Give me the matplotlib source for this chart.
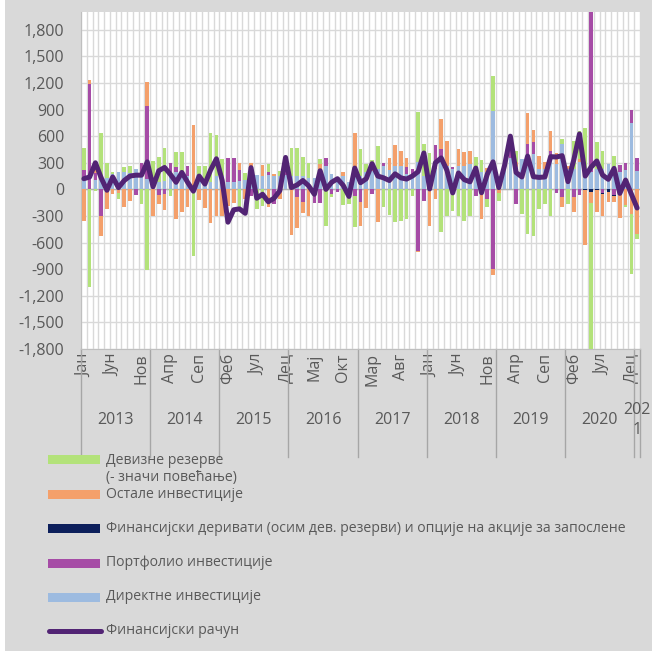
import numpy as np
import matplotlib
matplotlib.use("Agg")
import matplotlib.pyplot as plt
from matplotlib.patches import Rectangle
from matplotlib.lines import Line2D
from matplotlib.ticker import FuncFormatter

plt.rcParams['font.family'] = ['Open Sans', 'DejaVu Sans']

month_names = ['Јан', 'Феб', 'Мар', 'Апр', 'Мај', 'Јун',
               'Јул', 'Авг', 'Сеп', 'Окт', 'Нов', 'Дец']
years = ['2013', '2014', '2015', '2016', '2017', '2018', '2019', '2020', '202\n1']
months_per_year = [12, 12, 12, 12, 12, 12, 12, 12, 1]

# monthly values, Jan 2013 - Jan 2021 (EUR mn)
direct = [116, 0, 110, 127, 127, 172, 191, 191, 180, 229, 191, 120,
          60, 80, 100, 191, 191, 150, 150, 0, 150, 120, 80, 150,
          150, 80, 80, 100, 110, 154, 161, 154, 161, 154, 154, 160,
          154, 154, 154, 128, 128, 210, 266, 172, 116, 154, 79, 191,
          154, 191, 210, 229, 266, 221, 259, 259, 172, 170, 304, 150,
          150, 230, 341, 266, 229, 266, 266, 285, 266, 200, 199, 885,
          150, 230, 350, 250, 341, 398, 398, 229, 229, 379, 285, 510,
          229, 229, 304, 229, 200, 229, 229, 285, 229, 200, 220, 754,
          210]
portfolio = [101, 1192, 80, -296, 0, 0, 0, 0, 0, -64, 101, 821,
             0, -60, -52, 101, 60, 0, 116, 0, 0, 0, 0, 0,
             0, 269, 269, 120, 0, -71, 0, 0, 30, -165, 0, 50,
             0, -90, -139, 0, -154, -154, 90, -50, -30, 0, 0, -71,
             -139, 0, -50, 0, 30, 0, 0, 0, 76, 55, -690, -128,
             0, 272, 112, 0, 26, 0, 0, 0, -70, 0, -109, -896,
             0, 0, 100, -165, 0, 112, 131, 0, 0, 56, -40, -90,
             0, -90, -64, 0, 1800, 0, -40, 0, -64, 74, 76, 138,
             139]
derivatives = [0] * 87 + [-10, -26, -10, -10, -30, -10, 0, 0, 0, 0]
other = [-360, 38, 90, -233, -221, -50, -40, -202, -127, 0, 0, 270,
         -296, -105, -177, 0, -330, -259, -200, 724, -116, -214, -380, -300,
         -305, -184, -150, 76, -110, 142, 0, 120, -200, 22, -109, 60,
         -514, -349, -127, -296, 0, 75, 0, 0, 0, 45, 0, 439,
         -270, -214, 20, -371, 0, 135, 243, 176, 104, 0, -19, 0,
         -409, -109, 346, 281, 0, 188, 150, 150, 0, -330, 37, -75,
         -40, 40, 150, 60, 0, 356, 142, 150, 80, 225, 120, -112,
         37, -169, 37, -615, -124, -240, -246, -116, -72, -326, -176, -277,
         -502]
reserves = [255, -1106, -20, 514, 169, 20, -71, 64, 86, 0, -165, -909,
            259, 280, 361, -79, 173, 274, 0, -746, 109, 139, 550, 465,
            191, 0, 0, -221, 70, 0, -221, -184, 94, 0, 49, 100,
            307, 307, 206, 172, 0, 56, -409, -40, 0, -176, -165, -357,
            300, 90, 100, 255, -202, -289, -364, -356, -334, -71, 573, 360,
            265, 0, -476, -296, -240, -296, -352, -300, 96, 130, -94, 394,
            -90, 0, 0, 125, -277, -502, -529, -221, -160, -296, 0, 56,
            -165, 319, 319, 468, -1650, 307, 206, 0, 142, 0, -26, -675,
            -58]
fin_account = [120, 140, 300, 130, -10, 140, 20, 100, 150, 160, 160, 310,
               30, 210, 247, 170, 80, 191, 80, -20, 150, 60, 220, 345,
               100, -370, -230, -220, -270, 245, -100, -55, -140, -100, -15, 360,
               20, 50, 100, 40, -55, 210, 0, 80, 120, 45, -80, 240,
               75, 120, 290, 150, 130, 100, 175, 130, 116, 150, 200, 410,
               5, 300, 355, 215, -40, 185, 110, 85, 240, -38, 170, 310,
               20, 270, 600, 190, 140, 375, 143, 135, 140, 369, 365, 380,
               87, 330, 625, 150, 250, 320, 162, 113, 237, -45, 105, -53,
               -210]

series = [
    ('Директне инвестиције', direct, '#9dbbe0'),
    ('Портфолио инвестиције', portfolio, '#a64ca6'),
    ('Финансијски деривати (осим дев. резерви) и опције на акције за запослене', derivatives, '#0c1f5b'),
    ('Остале инвестиције', other, '#f4a06b'),
    ('Девизне резерве\n(- значи повећање)', reserves, '#b3e27a'),
]
line_color = '#522474'
text_color = '#595959'
grid_color = '#d9d9d9'

W, H = 652, 653
fig = plt.figure(figsize=(W / 100, H / 100), dpi=100)
fig.patch.set_facecolor('white')
fig.add_artist(Rectangle((5 / W, 2 / H), (W - 5) / W, (H - 2) / H,
                         transform=fig.transFigure, facecolor='#d9d9d9',
                         edgecolor='none', zorder=-10))

ax = fig.add_axes([81 / W, 1 - 349 / H, (640 - 81) / W, (349 - 12) / H])
ax.set_facecolor('white')

n = len(fin_account)
x = np.arange(n)

# Excel-style stacking: positives up from 0, negatives down from 0
pos_base = np.zeros(n)
neg_base = np.zeros(n)
for label, vals, color in series:
    v = np.array(vals, dtype=float)
    base = np.where(v >= 0, pos_base, neg_base)
    ax.bar(x, v, bottom=base, width=0.62, color=color, zorder=3, linewidth=0)
    pos_base += np.where(v >= 0, v, 0)
    neg_base += np.where(v < 0, v, 0)

ax.plot(x, fin_account, color=line_color, lw=3.6, zorder=5,
        solid_joinstyle='round', solid_capstyle='round')

ax.set_xlim(-0.5, n - 0.5)
ax.set_ylim(-1800, 2000)
ax.set_yticks(np.arange(-1800, 1801, 300))
ax.yaxis.set_major_formatter(FuncFormatter(lambda v, p: f'{v:,.0f}'))
ax.grid(axis='y', color=grid_color, lw=1.0, zorder=0)
ax.set_xticks(np.arange(-0.5, n, 1), minor=True)
ax.grid(axis='x', which='minor', color=grid_color, lw=1.0, zorder=0)
ax.axhline(0, color='#b0b0b0', lw=1.0, zorder=2)

tick_pos = np.arange(0, n, 5)
ax.set_xticks(tick_pos)
ax.set_xticklabels([month_names[i % 12] for i in tick_pos], rotation=90,
                   fontsize=11.5, color=text_color, va='top')
ax.tick_params(axis='x', which='both', length=0, pad=3)
ax.tick_params(axis='y', length=0, pad=12, labelsize=11.5, labelcolor=text_color)

for s in ['top', 'right']:
    ax.spines[s].set_visible(False)
ax.spines['left'].set_color('#bfbfbf')
ax.spines['bottom'].set_color('#bfbfbf')

# multi-level year axis
trans = ax.get_xaxis_transform()
sep_bottom = -(457 - 349) / 337
start = 0
bounds = [0]
for yr, cnt in zip(years, months_per_year):
    mid = start + cnt / 2 - 0.5
    ax.text(mid, -(420 - 349) / 337, yr, transform=trans, ha='center', va='center',
            fontsize=11.5, color=text_color, linespacing=1.4)
    start += cnt
    bounds.append(start)
for b in bounds:
    ax.add_line(Line2D([b - 0.5, b - 0.5], [0, sep_bottom], transform=trans,
                       color='#a6a6a6', lw=1.0, clip_on=False))

# legend
leg_x0, leg_x1, text_x = 48, 100, 106
entries = [(series[4], 459, [460, 477]),
           (series[3], 494, [494]),
           (series[2], 528, [528]),
           (series[1], 563, [563]),
           (series[0], 597, [597])]
for (label, vals, color), yc, ty in entries:
    fig.add_artist(Rectangle((leg_x0 / W, 1 - (yc + 4.5) / H), (leg_x1 - leg_x0) / W, 9 / H,
                             transform=fig.transFigure, facecolor=color, edgecolor='none'))
    for line_txt, yy in zip(label.split('\n'), ty):
        fig.text(text_x / W, 1 - yy / H, line_txt, fontsize=10.1, color=text_color,
                 ha='left', va='center')
fig.add_artist(Line2D([49 / W, 101 / W], [1 - 631 / H, 1 - 631 / H], transform=fig.transFigure,
                      color=line_color, lw=3.6, solid_capstyle='round'))
fig.text(text_x / W, 1 - 631 / H, 'Финансијски рачун', fontsize=10.1, color=text_color,
         ha='left', va='center')

fig.savefig('out.png', dpi=100)
